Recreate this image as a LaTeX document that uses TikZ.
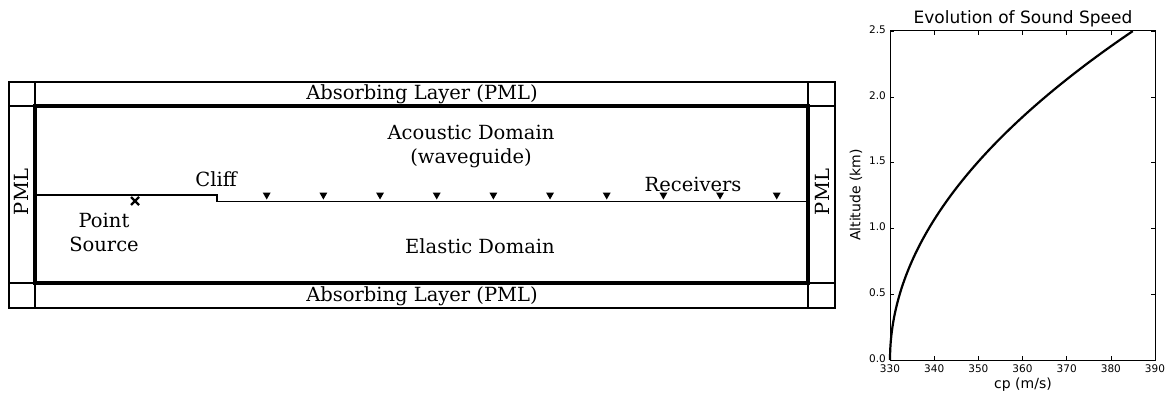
\documentclass[tikz,border=0pt]{standalone}
\usepackage{fontspec}
\usepackage{tikz}
\usetikzlibrary{positioning}
\newfontfamily\plotfont{DejaVu Sans}
\newfontfamily\domainfont{DejaVu Serif}
\tikzset{domain text/.style={font=\domainfont\fontsize{19.5}{24}\selectfont, align=center, inner sep=0pt},
  plot text/.style={font=\plotfont\fontsize{14}{16}\selectfont, inner sep=0pt},
  tick text/.style={font=\plotfont\fontsize{10.5}{12}\selectfont, inner sep=0pt},
  grid wall/.style={line width=1.8pt},
  main wall/.style={line width=3.2pt},
  receiver/.style={fill=black}}

\begin{document}
\begin{tikzpicture}[x=1pt, y=-1pt]
\useasboundingbox (0,0) rectangle (1170,396);
% computational domain with PML layers
\draw[line width=2.4pt] (9,82) rectangle (835,308);
\draw[grid wall] (9,106) -- (835,106) (9,283) -- (835,283) (35,82) -- (35,308) (808,82) -- (808,308);
\draw[main wall] (35,106) rectangle (808,283);
\node (topPML) at (422,94) [domain text] {Absorbing Layer (PML)};
\node (bottomPML) at (422,296) [domain text] {Absorbing Layer (PML)};
\node (leftPML) at (21,192) [domain text, rotate=90] {PML};
\node (rightPML) at (822,192) [domain text, rotate=90] {PML};
% ground with cliff
\coordinate (groundL) at (35,195);
\coordinate (cliffTop) at (217,195);
\coordinate (groundR) at (808,201.5);
\draw[line width=1.9pt] (groundL) -- (cliffTop) -- (cliffTop |- groundR) -- (groundR);
\foreach \k in {0,...,9} \fill[receiver] ({266.7+56.67*\k},199.5) -- ++(-4,-7) -- ++(8,0) -- cycle;
\coordinate (source) at (135,201);
\draw[line width=2.2pt] (source) ++(-4,-4) -- ++(8,8) (source) ++(-4,4) -- ++(8,-8);
\node (acoustic) at (471,146) [domain text] {Acoustic Domain\\(waveguide)};
\node (elastic) at (480,246) [domain text] {Elastic Domain};
\node (cliff) at (216,179) [domain text] {Cliff};
\node (pointSource) at (104,232) [domain text] {Point\\Source};
\node (receivers) at (693,184) [domain text] {Receivers};
% sound speed profile
\draw[line width=1pt] (890,31) rectangle (1155,360);
\foreach \c in {330,340,...,390} {
  \draw[line width=0.6pt] ({890+(\c-330)*265/60},360) -- ++(0,-4) ({890+(\c-330)*265/60},31) -- ++(0,4);
  \node (xtick-\c) at ({890+(\c-330)*265/60},365) [tick text, anchor=north] {\c};
}
\foreach \z/\lab in {0/0.0, 0.5/0.5, 1/1.0, 1.5/1.5, 2/2.0, 2.5/2.5} {
  \draw[line width=0.6pt] (890,{360-131.6*\z}) -- ++(4,0) (1155,{360-131.6*\z}) -- ++(-4,0);
  \node (ytick-\lab) at (886,{358.5-131.6*\z}) [tick text, anchor=east] {\lab};
}
\draw[line width=2.2pt] plot[domain=0:2.5, samples=80, smooth] ({890+8.8*\x*\x*265/60},{360-131.6*\x});
\node (title) at (1023,19) [plot text, font=\plotfont\fontsize{17}{20}\selectfont] {Evolution of Sound Speed};
\node (xlabel) at (1023,385) [plot text] {cp (m/s)};
\node (ylabel) at (856,195) [plot text, rotate=90] {Altitude (km)};
\end{tikzpicture}
\end{document}
